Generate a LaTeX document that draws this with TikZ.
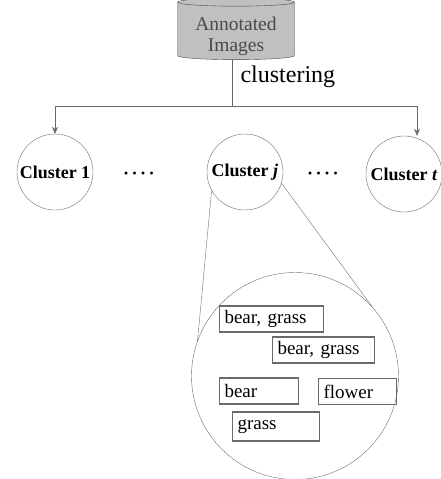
\documentclass[tikz,border=0pt]{standalone}
\usepackage{fontspec}
\setmainfont{Liberation Serif}
\usetikzlibrary{shapes.geometric,arrows.meta}
\definecolor{dbfill}{HTML}{C0C0C0}
\definecolor{dbtext}{HTML}{4A4A4A}
\definecolor{ringgray}{HTML}{707070}
\definecolor{boxgray}{HTML}{6A6A6A}
\begin{document}
\begin{tikzpicture}[x=1pt, y=-1pt, >={Stealth[length=7pt,width=6pt]},
    cluster/.style={circle, draw=ringgray, minimum size=76pt, inner sep=0pt,
      font=\fontsize{18}{20}\selectfont\bfseries},
    tagbox/.style={draw=boxgray, line width=1.1pt, align=left, inner xsep=5pt,
      inner ysep=0pt, minimum height=26pt, anchor=west,
      font=\fontsize{19}{21}\selectfont},
    dots/.style={font=\fontsize{18}{20}\selectfont\bfseries},
    zoomline/.style={draw=ringgray}]
  \useasboundingbox (0,0) rectangle (441,479);
  \node[cylinder, shape border rotate=90, aspect=0.1, draw=dbtext, fill=dbfill,
    minimum width=117pt, minimum height=50pt, inner sep=0pt, align=center,
    text=dbtext, font=\fontsize{19.5}{21}\selectfont] (images) at (236,31) {\rule{0pt}{24pt}Annotated\\Images};
  \node[anchor=base west, font=\fontsize{24}{26}\selectfont] (clustlabel) at (237,82) {clustering};
  \coordinate (split) at (232,106);
  \node[cluster] (c1) at (55,172) {Cluster 1};
  \node[cluster] (cj) at (245,172) {Cluster \textit{j}};
  \node[cluster] (ct) at (404,174) {Cluster \textit{t}};
  \node[dots] (d1) at (139,176) {·\hspace{2.5pt}·\hspace{2.5pt}·\hspace{2.5pt}·};
  \node[dots] (d2) at (323,176) {·\hspace{2.5pt}·\hspace{2.5pt}·\hspace{2.5pt}·};
  \draw[boxgray] (images.south -| split) -- (split);
  \draw[->, boxgray] (split) -| (c1.north);
  \draw[->, boxgray] (split) -| ([xshift=13pt]ct.north);
  \node[circle, draw=ringgray, minimum size=207pt, inner sep=0pt] (detail) at (295,376) {};
  \draw[zoomline] (cj.209.6) -- (detail.160);
  \draw[zoomline] (cj.343) -- (detail.42);
  \node[tagbox, text width=94pt] (t1) at (219,319) {bear, grass};
  \node[tagbox, text width=92pt] (t2) at (272,350) {bear, grass};
  \node[tagbox, text width=69pt] (t3) at (219,391) {bear};
  \node[tagbox, text width=68pt] (t4) at (318,391.5) {flower};
  \node[tagbox, text width=77pt, minimum height=29pt] (t5) at (232,426.5) {grass};
\end{tikzpicture}
\end{document}
